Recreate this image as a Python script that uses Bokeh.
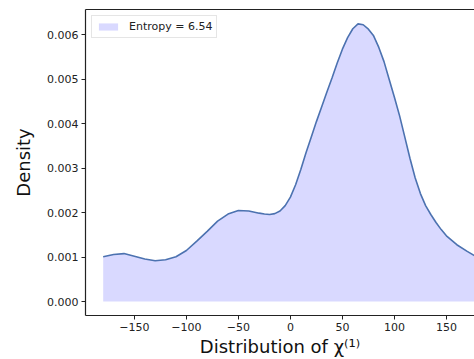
from bokeh.plotting import figure
from bokeh.models import Range1d, FixedTicker, LinearAxis, Legend, LegendItem, NumeralTickFormatter, ColumnDataSource
from bokeh.embed import file_html
from bokeh.resources import INLINE

# Values
chi_values = [-180, -170, -160, -150, -140, -130, -120, -110, -100, -90, -80, -70,
              -60, -50, -40, -30, -25, -20, -15, -10, -5, 0, 5, 10, 15, 20, 25, 30,
              35, 40, 45, 50, 55, 60, 65, 70, 75, 80, 85, 90, 95, 100, 105, 110,
              115, 120, 125, 130, 135, 140, 145, 150, 160, 170, 180]
density = [0.00101, 0.00106, 0.00108, 0.00102, 0.00096, 0.00092, 0.00094, 0.00101,
           0.00115, 0.00136, 0.00158, 0.00181, 0.00197, 0.00205, 0.00204, 0.00199,
           0.00197, 0.00196, 0.00198, 0.00204, 0.00216, 0.00235, 0.00263, 0.00297,
           0.00335, 0.00370, 0.00405, 0.00438, 0.00471, 0.00503, 0.00537, 0.00568,
           0.00594, 0.00614, 0.00625, 0.00623, 0.00613, 0.00598, 0.00572, 0.00540,
           0.00500, 0.00460, 0.00418, 0.00370, 0.00322, 0.00278, 0.00243, 0.00216,
           0.00196, 0.00178, 0.00162, 0.00148, 0.00128, 0.00113, 0.00099]
zero_line = [0.0] * len(chi_values)

x_ticks = [-150, -100, -50, 0, 50, 100, 150]
x_tick_labels = ["\u2212150", "\u2212100", "\u221250", "0", "50", "100", "150"]
y_ticks = [0.000, 0.001, 0.002, 0.003, 0.004, 0.005, 0.006]
legend_label = "Entropy = 6.54"
x_label = "Distribution of \u03c7\u207d\u00b9\u207e"
y_label = "Density"

src = ColumnDataSource(dict(x=chi_values, y=density, y0=zero_line))

p = figure(width=474, height=359, output_backend="svg", toolbar_location=None,
           x_range=Range1d(-197, 177), y_range=Range1d(-0.000313, 0.006573),
           min_border_left=85, min_border_right=0, min_border_top=9, min_border_bottom=0)
p.outline_line_color = None
p.xgrid.visible = False
p.ygrid.visible = False
p.background_fill_color = "white"
p.border_fill_color = "white"

area = p.varea(x="x", y1="y0", y2="y", source=src, fill_color="blue", fill_alpha=0.15)
p.line(x="x", y="y", source=src, line_color="#4c72b0", line_width=1.6)

font = "DejaVu Sans"
for ax in (p.xaxis[0], p.yaxis[0]):
    ax.axis_line_color = "#222222"
    ax.axis_line_width = 1.2
    ax.major_tick_line_color = "#222222"
    ax.major_tick_out = 4
    ax.major_tick_in = 0
    ax.minor_tick_line_color = None
    ax.major_label_text_font = font
    ax.major_label_text_font_size = "11px"
    ax.major_label_text_color = "#222222"
    ax.axis_label_text_font = font
    ax.axis_label_text_font_size = "18px"
    ax.axis_label_text_font_style = "normal"
    ax.axis_label_text_color = "#111111"

p.xaxis.ticker = FixedTicker(ticks=x_ticks)
p.xaxis.major_label_overrides = {t: l for t, l in zip(x_ticks, x_tick_labels)}
p.xaxis.major_label_standoff = 3
p.xaxis.axis_label = x_label
p.xaxis.axis_label_standoff = 2

p.yaxis.ticker = FixedTicker(ticks=y_ticks)
p.yaxis.formatter = NumeralTickFormatter(format="0.000")
p.yaxis.major_label_standoff = 3
p.yaxis.axis_label = y_label
p.yaxis.axis_label_standoff = 10

top_axis = LinearAxis(ticker=FixedTicker(ticks=[]), major_label_text_font_size="0px",
                      axis_line_color="#222222", axis_line_width=1.2,
                      major_tick_line_color=None, minor_tick_line_color=None)
p.add_layout(top_axis, "above")

legend = Legend(items=[LegendItem(label=legend_label, renderers=[area])],
                location="top_left", margin=6, padding=4, spacing=0,
                label_text_font=font, label_text_font_size="11px", label_text_color="#222222",
                glyph_width=24, glyph_height=9, label_standoff=9, label_height=12,
                border_line_color="#cccccc", border_line_width=1,
                background_fill_color="white", background_fill_alpha=0.8)
p.add_layout(legend)

open("out.html", "w").write(file_html(p, INLINE))
